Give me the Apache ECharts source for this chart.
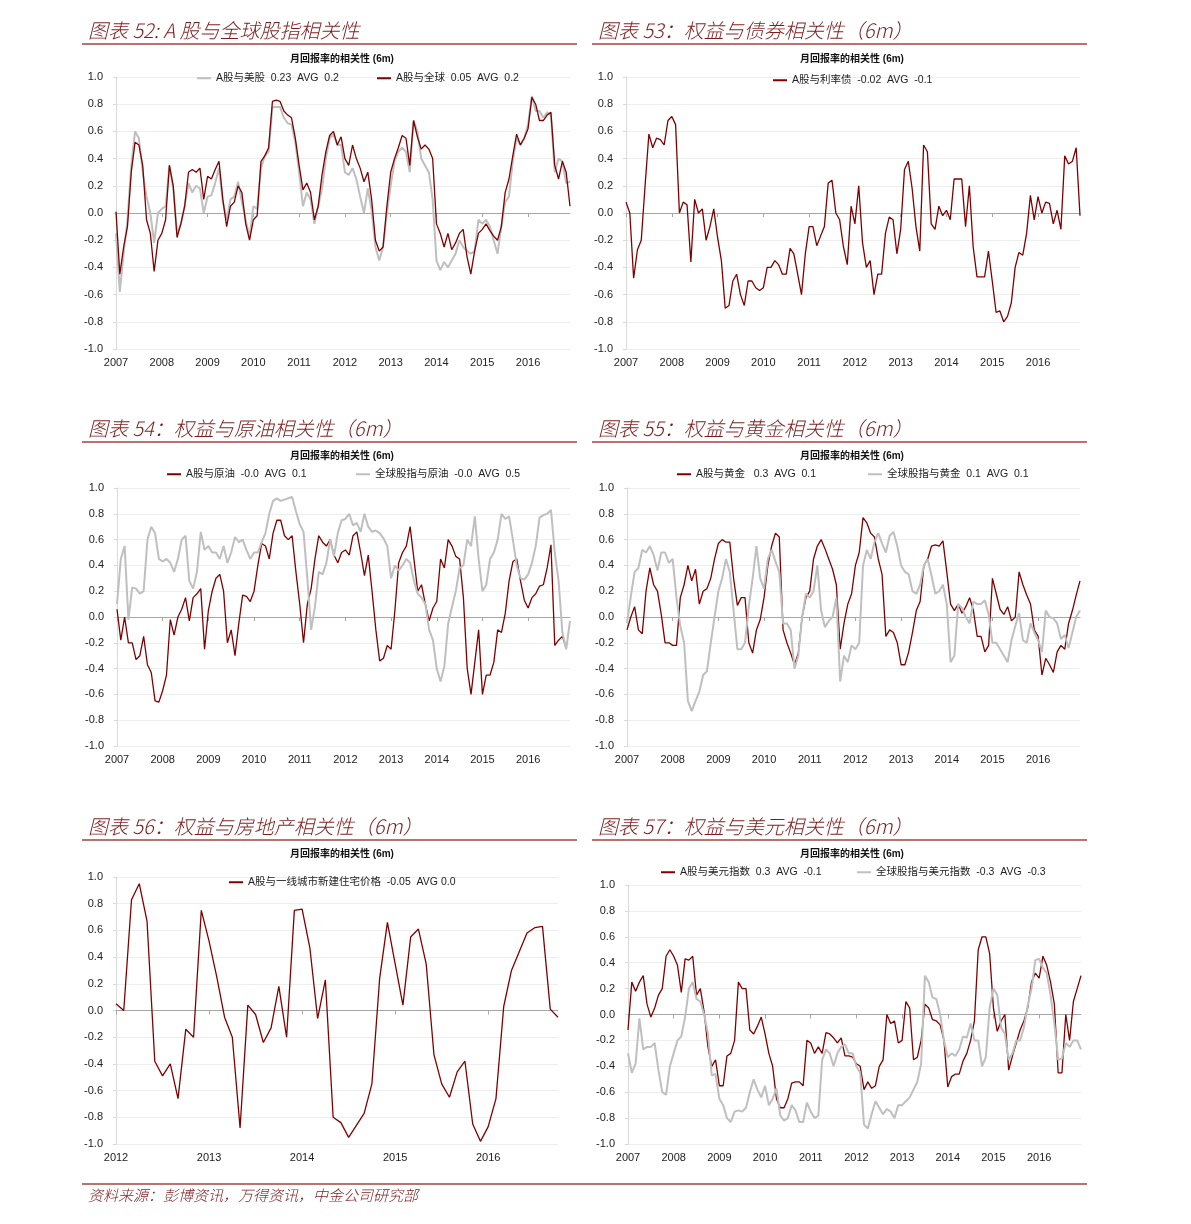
<!DOCTYPE html>
<html><head><meta charset="utf-8">
<script src="https://cdn.jsdelivr.net/npm/echarts@6.0.0/dist/echarts.min.js"></script>
<style>html,body{margin:0;padding:0;background:#fff}#c{width:1191px;height:1224px}</style>
</head><body><div id="c"></div>
<script>
// ---------- categories ----------
function buildMonths(startYear, count){const out=[];for(let i=0;i<count;i++){const y=startYear+Math.floor(i/12),m=i%12+1;out.push(y+'-'+(m<10?'0':'')+m);}return out;}
const months2007 = buildMonths(2007, 120);   // 2007-01 .. 2016-12
const months2012 = buildMonths(2012, 58);    // 2012-01 .. 2016-10

// ---------- titles / legend texts ----------
const sectionTitles = ['图表 52: A 股与全球股指相关性','图表 53：权益与债券相关性（6m）','图表 54：权益与原油相关性（6m）','图表 55：权益与黄金相关性（6m）','图表 56：权益与房地产相关性（6m）','图表 57：权益与美元相关性（6m）'];
const chartSubtitle = '月回报率的相关性 (6m)';
const sourceText = '资料来源：彭博资讯，万得资讯，中金公司研究部';
const names52 = ['A股与美股  0.23  AVG  0.2','A股与全球  0.05  AVG  0.2'];
const names53 = ['A股与利率债  -0.02  AVG  -0.1'];
const names54 = ['A股与原油  -0.0  AVG  0.1','全球股指与原油  -0.0  AVG  0.5'];
const names55 = ['A股与黄金   0.3  AVG  0.1','全球股指与黄金  0.1  AVG  0.1'];
const names56 = ['A股与一线城市新建住宅价格  -0.05  AVG 0.0'];
const names57 = ['A股与美元指数  0.3  AVG  -0.1','全球股指与美元指数  -0.3  AVG  -0.3'];

// ---------- data (monthly) ----------
const p52_usStocks = [-0.15,-0.58,-0.3,-0.05,0.35,0.6,0.55,0.3,0.12,0.0,-0.22,0.0,
0.03,0.05,0.35,0.18,-0.15,-0.08,0.05,0.22,0.15,0.2,0.18,0.0,
0.12,0.13,0.22,0.33,0.08,-0.05,0.1,0.12,0.23,0.08,-0.05,-0.18,
0.05,0.03,0.33,0.42,0.45,0.78,0.78,0.78,0.7,0.66,0.65,0.52,
0.3,0.05,0.15,0.1,-0.08,0.05,0.18,0.4,0.55,0.58,0.5,0.5,
0.3,0.28,0.33,0.25,0.12,0.0,0.18,0.02,-0.25,-0.35,-0.25,0.0,
0.2,0.38,0.45,0.48,0.45,0.3,0.68,0.6,0.4,0.35,0.3,0.1,
-0.35,-0.42,-0.36,-0.4,-0.35,-0.3,-0.2,-0.25,-0.28,-0.3,-0.28,-0.05,
-0.08,-0.05,-0.1,-0.2,-0.3,-0.1,0.08,0.12,0.38,0.55,0.5,0.55,
0.65,0.86,0.75,0.75,0.7,0.74,0.72,0.3,0.4,0.38,0.22,0.23];
const p52_global = [0.01,-0.45,-0.25,-0.1,0.3,0.52,0.5,0.35,-0.05,-0.15,-0.43,-0.2,
-0.15,-0.05,0.35,0.2,-0.18,-0.08,0.05,0.3,0.32,0.3,0.33,0.1,
0.27,0.25,0.32,0.38,0.1,-0.1,0.05,0.08,0.2,0.15,-0.08,-0.2,
-0.05,-0.02,0.38,0.42,0.48,0.82,0.83,0.82,0.75,0.72,0.7,0.55,
0.35,0.17,0.22,0.15,-0.05,0.05,0.28,0.45,0.57,0.6,0.5,0.56,
0.4,0.35,0.5,0.4,0.33,0.23,0.3,0.1,-0.2,-0.28,-0.25,0.05,
0.3,0.4,0.48,0.57,0.55,0.35,0.68,0.56,0.47,0.5,0.47,0.4,
-0.08,-0.15,-0.25,-0.15,-0.27,-0.22,-0.15,-0.12,-0.32,-0.45,-0.28,-0.15,
-0.12,-0.08,-0.13,-0.17,-0.2,-0.1,0.15,0.25,0.42,0.58,0.5,0.55,
0.62,0.85,0.8,0.68,0.68,0.72,0.74,0.35,0.25,0.38,0.3,0.05];
const p53_bonds = [0.08,0.0,-0.48,-0.27,-0.2,0.2,0.58,0.48,0.55,0.54,0.5,0.68,
0.71,0.65,0.0,0.08,0.06,-0.36,0.1,0.0,0.03,-0.2,-0.1,0.03,
-0.18,-0.35,-0.7,-0.68,-0.5,-0.45,-0.6,-0.68,-0.5,-0.5,-0.55,-0.57,
-0.55,-0.4,-0.4,-0.35,-0.38,-0.45,-0.45,-0.26,-0.3,-0.45,-0.6,-0.3,
-0.1,-0.1,-0.24,-0.17,-0.1,0.22,0.24,0.0,-0.05,-0.25,-0.38,0.05,
-0.08,0.2,-0.22,-0.4,-0.35,-0.6,-0.45,-0.45,-0.15,-0.03,-0.05,-0.3,
-0.12,0.32,0.38,0.18,-0.1,-0.28,0.5,0.45,-0.08,-0.12,0.05,-0.02,
0.02,-0.05,0.25,0.25,0.25,-0.1,0.2,-0.25,-0.47,-0.47,-0.47,-0.28,
-0.5,-0.73,-0.72,-0.8,-0.76,-0.66,-0.4,-0.29,-0.31,-0.15,0.13,-0.05,
0.12,0.0,0.08,0.07,-0.08,0.02,-0.12,0.42,0.36,0.38,0.48,-0.02];
const p54_aOil = [0.06,-0.18,0.0,-0.2,-0.2,-0.33,-0.3,-0.15,-0.37,-0.43,-0.65,-0.66,
-0.57,-0.45,-0.02,-0.14,0.0,0.06,0.15,-0.03,0.15,0.18,0.22,-0.25,
0.05,0.2,0.3,0.33,0.2,-0.2,-0.1,-0.3,-0.05,0.17,0.16,0.12,
0.2,0.4,0.57,0.55,0.45,0.65,0.75,0.75,0.63,0.6,0.63,0.35,
0.1,-0.2,0.1,0.22,0.45,0.63,0.58,0.55,0.6,0.48,0.42,0.5,
0.52,0.48,0.63,0.66,0.5,0.32,0.48,0.2,-0.1,-0.34,-0.32,-0.22,
-0.25,0.05,0.42,0.5,0.55,0.7,0.45,0.2,0.25,0.1,-0.03,0.07,
0.12,0.45,0.38,0.6,0.55,0.47,0.45,0.15,-0.4,-0.6,-0.35,-0.1,
-0.6,-0.45,-0.45,-0.35,-0.1,-0.12,0.03,0.28,0.43,0.45,0.28,0.13,
0.07,0.15,0.18,0.24,0.25,0.38,0.56,-0.22,-0.18,-0.15,-0.24,null];
const p54_globalOil = [0.1,0.45,0.55,-0.02,0.23,0.22,0.18,0.2,0.6,0.7,0.65,0.45,
0.43,0.45,0.42,0.35,0.45,0.6,0.63,0.28,0.22,0.35,0.66,0.52,
0.55,0.5,0.5,0.45,0.55,0.42,0.5,0.62,0.58,0.6,0.52,0.45,
0.5,0.5,0.58,0.65,0.8,0.9,0.92,0.9,0.91,0.92,0.93,0.82,
0.72,0.66,0.3,-0.1,0.08,0.35,0.33,0.42,0.6,0.47,0.65,0.75,
0.76,0.8,0.71,0.73,0.66,0.8,0.7,0.66,0.67,0.65,0.61,0.55,
0.3,0.4,0.36,0.4,0.45,0.42,0.28,0.18,0.15,0.1,-0.1,-0.18,
-0.4,-0.5,-0.38,-0.05,0.08,0.2,0.38,0.4,0.6,0.55,0.78,0.45,
0.2,0.25,0.45,0.5,0.6,0.8,0.76,0.78,0.6,0.4,0.3,0.29,
0.33,0.42,0.55,0.77,0.79,0.8,0.83,0.5,0.28,-0.12,-0.25,-0.03];
const p55_aGold = [-0.1,0.0,0.08,-0.1,-0.13,0.2,0.38,0.25,0.2,0.02,-0.2,-0.2,
-0.22,-0.22,0.15,0.25,0.4,0.28,0.37,0.1,0.2,0.22,0.3,0.45,
0.57,0.6,0.58,0.58,0.3,0.09,0.15,0.15,-0.2,-0.28,-0.1,-0.02,
0.15,0.4,0.55,0.65,0.62,-0.1,-0.2,-0.28,-0.37,-0.28,0.0,0.15,
0.2,0.45,0.55,0.6,0.53,0.45,0.37,0.25,-0.25,-0.05,0.1,0.18,
0.4,0.5,0.77,0.73,0.65,0.62,0.45,0.33,-0.15,-0.1,-0.12,-0.2,
-0.37,-0.37,-0.27,-0.12,0.05,0.12,0.4,0.45,0.55,0.56,0.55,0.59,
0.35,0.1,0.05,0.1,0.03,0.08,0.15,0.05,-0.15,-0.15,-0.27,-0.22,
0.3,0.18,0.06,0.02,0.08,-0.03,0.0,0.35,0.25,0.17,0.1,-0.1,
-0.15,-0.45,-0.32,-0.37,-0.43,-0.27,-0.22,-0.25,-0.05,0.05,0.17,0.28];
const p55_globalGold = [-0.05,0.16,0.35,0.38,0.52,0.5,0.55,0.48,0.36,0.5,0.5,0.42,
0.45,0.15,-0.07,-0.2,-0.65,-0.73,-0.65,-0.58,-0.45,-0.42,-0.2,0.0,
0.2,0.3,0.45,0.35,0.05,-0.25,-0.25,-0.2,0.08,0.3,0.55,0.3,
0.22,0.45,0.52,0.43,0.35,-0.05,-0.05,-0.1,-0.4,-0.3,0.0,0.18,
0.15,0.2,0.4,0.05,-0.08,-0.03,0.0,0.15,-0.5,-0.3,-0.35,-0.22,
-0.25,-0.2,0.4,0.52,0.45,0.58,0.65,0.57,0.5,0.63,0.66,0.55,
0.4,0.35,0.33,0.2,0.18,0.25,0.4,0.45,0.32,0.18,0.2,0.25,
0.1,-0.35,-0.3,0.1,0.07,0.0,-0.05,0.12,0.1,0.1,0.13,0.02,
-0.2,-0.2,-0.25,-0.3,-0.35,-0.18,-0.07,0.03,-0.18,-0.2,-0.05,-0.12,
-0.18,-0.27,0.05,0.0,-0.01,-0.05,-0.17,-0.14,-0.24,-0.12,0.0,0.05];
const p56_housing = [0.05,0.0,0.83,0.95,0.67,-0.38,-0.49,-0.40,-0.66,-0.14,-0.20,0.75,
0.52,0.25,-0.05,-0.20,-0.88,0.04,-0.03,-0.24,-0.13,0.18,-0.20,0.75,
0.76,0.47,-0.06,0.23,-0.80,-0.84,-0.95,-0.86,-0.77,-0.55,0.24,0.66,
0.35,0.04,0.55,0.61,0.35,-0.33,-0.55,-0.65,-0.46,-0.38,-0.85,-0.98,
-0.87,-0.66,0.03,0.30,0.44,0.58,0.62,0.63,0.01,-0.05];
const p57_aUsd = [-0.12,0.25,0.18,0.25,0.3,0.08,-0.02,0.05,0.15,0.2,0.45,0.5,
0.45,0.38,0.17,0.43,0.42,0.45,0.15,0.2,0.02,-0.25,-0.4,-0.35,
-0.55,-0.55,-0.32,-0.3,-0.2,0.25,0.2,0.2,-0.12,-0.15,-0.09,-0.02,
-0.15,-0.3,-0.4,-0.65,-0.72,-0.72,-0.65,-0.53,-0.52,-0.52,-0.55,-0.2,
-0.22,-0.3,-0.25,-0.3,-0.14,-0.15,-0.18,-0.22,-0.18,-0.32,-0.32,-0.33,
-0.38,-0.4,-0.58,-0.52,-0.57,-0.55,-0.4,-0.35,0.0,-0.07,-0.05,-0.22,
-0.2,0.1,0.05,-0.35,-0.33,-0.2,0.08,0.05,-0.04,-0.05,-0.08,-0.2,
-0.56,-0.48,-0.46,-0.46,-0.36,-0.3,-0.2,-0.05,0.5,0.6,0.6,0.47,
0.05,-0.13,-0.05,0.0,-0.43,-0.32,-0.22,-0.12,-0.05,0.05,0.25,0.32,
0.28,0.45,0.38,0.25,0.08,-0.45,-0.45,0.0,-0.2,0.1,0.2,0.3];
const p57_globalUsd = [-0.3,-0.45,-0.38,-0.03,-0.27,-0.25,-0.25,-0.22,-0.43,-0.6,-0.62,-0.4,
-0.3,-0.2,-0.17,-0.02,0.2,0.25,0.12,0.1,0.0,-0.15,-0.47,-0.46,
-0.65,-0.7,-0.8,-0.83,-0.75,-0.74,-0.75,-0.72,-0.6,-0.5,-0.58,-0.64,
-0.55,-0.7,-0.65,-0.57,-0.78,-0.82,-0.8,-0.7,-0.74,-0.83,-0.83,-0.68,
-0.75,-0.8,-0.78,-0.35,-0.27,-0.3,-0.4,-0.3,-0.25,-0.23,-0.3,-0.3,
-0.4,-0.45,-0.85,-0.88,-0.77,-0.67,-0.72,-0.77,-0.73,-0.75,-0.8,-0.7,
-0.7,-0.67,-0.64,-0.58,-0.52,-0.38,0.3,0.25,0.13,0.12,0.0,-0.2,
-0.33,-0.3,-0.32,-0.27,-0.17,-0.18,-0.07,-0.2,-0.2,-0.4,-0.33,0.05,
0.2,0.15,-0.1,-0.15,-0.35,-0.3,-0.2,-0.2,-0.1,0.07,0.2,0.42,
0.43,0.36,0.32,0.15,-0.07,-0.35,-0.34,-0.22,-0.25,-0.2,-0.2,-0.27];

// ---------- styling ----------
const RED = '#7F0000', GRAY = '#BFBFBF', TITLE_RED = '#7E1B1B', RULE = '#A0453F';
const FONT = "'Liberation Sans', Arial, 'Noto Sans CJK SC', sans-serif";
const CJK = "'Noto Sans CJK SC', sans-serif";

const panels = [
  {title:sectionTitles[0], tpos:[88,20], box:{left:116,top:77,width:454,height:272}, sub:[342,54], cats:months2007,
   lines:[{name:names52[0],data:p52_usStocks,color:GRAY,w:2,leg:[197,73]},{name:names52[1],data:p52_global,color:RED,w:1.3,leg:[377,73]}]},
  {title:sectionTitles[1], tpos:[598,20], box:{left:626,top:77,width:454,height:272}, sub:[852,54], cats:months2007,
   lines:[{name:names53[0],data:p53_bonds,color:RED,w:1.3,leg:[773,75]}]},
  {title:sectionTitles[2], tpos:[88,418], box:{left:117,top:488,width:453,height:258}, sub:[342,451], cats:months2007,
   lines:[{name:names54[0],data:p54_aOil,color:RED,w:1.3,leg:[167,469]},{name:names54[1],data:p54_globalOil,color:GRAY,w:2,leg:[356,469]}]},
  {title:sectionTitles[3], tpos:[598,418], box:{left:627,top:488,width:453,height:258}, sub:[852,451], cats:months2007,
   lines:[{name:names55[0],data:p55_aGold,color:RED,w:1.3,leg:[677,469]},{name:names55[1],data:p55_globalGold,color:GRAY,w:2,leg:[868,469]}]},
  {title:sectionTitles[4], tpos:[88,816], box:{left:116,top:877,width:442,height:267}, sub:[342,849], cats:months2012,
   lines:[{name:names56[0],data:p56_housing,color:RED,w:1.3,leg:[229,877]}]},
  {title:sectionTitles[5], tpos:[598,816], box:{left:628,top:885,width:453,height:259}, sub:[852,849], cats:months2007,
   lines:[{name:names57[0],data:p57_aUsd,color:RED,w:1.3,leg:[661,867]},{name:names57[1],data:p57_globalUsd,color:GRAY,w:2,leg:[857,867]}]}
];

const isJan = (idx, val) => String(val).slice(5) === '01';
const grid=[], xAxis=[], yAxis=[], series=[], legend=[], title=[], graphic=[];
panels.forEach((p,i)=>{
  grid.push(Object.assign({containLabel:false}, p.box));
  xAxis.push({type:'category', gridIndex:i, data:p.cats, boundaryGap:false, position:'bottom',
    axisLine:{show:true,onZero:true,lineStyle:{color:'#A6A6A6',width:1}},
    axisTick:{show:true,interval:isJan,length:4,lineStyle:{color:'#A6A6A6'}},
    axisLabel:{show:false}, splitLine:{show:false}});
  xAxis.push({type:'category', gridIndex:i, data:p.cats, boundaryGap:false, position:'bottom',
    axisLine:{show:false,onZero:false}, axisTick:{show:false},
    axisLabel:{interval:isJan, formatter:v=>v.slice(0,4), margin:8, fontSize:11, color:'#222', fontFamily:FONT},
    splitLine:{show:false}});
  yAxis.push({type:'value', gridIndex:i, min:-1, max:1, interval:0.2,
    axisLine:{show:true,lineStyle:{color:'#D9D9D9'}},
    axisTick:{show:true,length:3,lineStyle:{color:'#D9D9D9'}},
    axisLabel:{formatter:v=>Math.abs(v)<1e-9?'0.0':v.toFixed(1), margin:13, fontSize:11, color:'#222', fontFamily:FONT},
    splitLine:{show:true,lineStyle:{color:'#EEEEEE',width:1}}});
  p.lines.forEach(l=>{
    series.push({type:'line', name:l.name, xAxisIndex:2*i, yAxisIndex:i, data:l.data, symbol:'none',
      lineStyle:{color:l.color,width:l.w}, itemStyle:{color:l.color}, emphasis:{disabled:true}, animation:false});
    legend.push({data:[l.name], left:l.leg[0], top:l.leg[1], padding:0, icon:'rect', itemWidth:14, itemHeight:2,
      selectedMode:false, textStyle:{fontSize:10.5, color:'#222', fontFamily:FONT}});
  });
  title.push({text:p.title, left:p.tpos[0], top:p.tpos[1], padding:0,
    textStyle:{fontSize:20, fontStyle:'italic', fontWeight:300, color:TITLE_RED, fontFamily:CJK}});
  title.push({text:chartSubtitle, left:p.sub[0], top:p.sub[1], textAlign:'center', padding:0,
    textStyle:{fontSize:10, fontWeight:'bold', color:'#111', fontFamily:FONT}});
});
title.push({text:sourceText, left:88, top:1188, padding:0,
  textStyle:{fontSize:15, fontStyle:'italic', fontWeight:300, color:TITLE_RED, fontFamily:CJK}});
[[82,577,44],[592,1087,44],[82,577,442],[592,1087,442],[82,577,840],[592,1087,840],[82,1087,1184]].forEach(r=>{
  graphic.push({type:'line', shape:{x1:r[0],y1:r[2],x2:r[1],y2:r[2]}, style:{stroke:RULE,lineWidth:1.5}, silent:true});
});

const chart = echarts.init(document.getElementById('c'), null, {renderer:'canvas'});
chart.setOption({backgroundColor:'#fff', animation:false, title, grid, xAxis, yAxis, series, legend, graphic, tooltip:{show:false}});
</script>
</body></html>
